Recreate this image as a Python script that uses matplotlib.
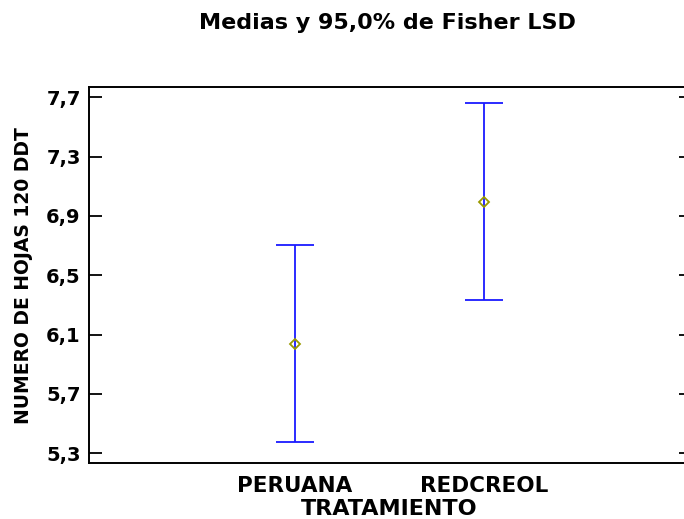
import matplotlib
matplotlib.use("Agg")
import matplotlib.pyplot as plt
import numpy as np

# Fisher LSD means and 95% interval half-widths
tratamientos = ["PERUANA", "REDCREOL"]
medias = [6.04, 6.997]
semi_lsd = [0.663, 0.663]
yticks = [5.3, 5.7, 6.1, 6.5, 6.9, 7.3, 7.7]
ytick_labels = ["5,3", "5,7", "6,1", "6,5", "6,9", "7,3", "7,7"]

W, H = 684, 519
fig = plt.figure(figsize=(W / 100, H / 100), dpi=100)
ax = fig.add_axes([89 / W, 55.7 / H, 602 / W, 376.6 / H])

x = np.arange(len(tratamientos))
ax.errorbar(x, medias, yerr=semi_lsd, fmt="none", ecolor="#1a1aff",
            elinewidth=1.3, capsize=13.7, capthick=1.3, zorder=2)
ax.plot(x, medias, linestyle="none", marker="D", markersize=5,
        markerfacecolor="none", markeredgecolor="#999900",
        markeredgewidth=1.3, zorder=3)

ax.set_xlim(-1.09, 2.095)
ax.set_ylim(5.2326, 7.7715)
ax.set_xticks(x)
ax.set_xticklabels(tratamientos, fontsize=15.5, fontweight="bold")
ax.set_yticks(yticks)
ax.set_yticklabels(ytick_labels, fontsize=14, fontweight="bold")

ax.tick_params(axis="y", direction="in", length=9, width=1.3,
               left=True, right=True, pad=6, color="black")
ax.tick_params(axis="x", length=0, pad=9)
for sp in ax.spines.values():
    sp.set_linewidth(1.4)
    sp.set_color("black")

fig.text(387.5 / W, 1 - 29 / H, "Medias y 95,0% de Fisher LSD",
         ha="center", va="baseline", fontsize=16, fontweight="bold")
fig.text(389 / W, 4 / H, "TRATAMIENTO", ha="center", va="baseline",
         fontsize=16, fontweight="bold")
fig.text(24 / W, 1 - 276 / H, "NUMERO DE HOJAS 120 DDT", rotation=90,
         ha="center", va="center", fontsize=13.5, fontweight="bold")

fig.savefig("out.png", dpi=100)
